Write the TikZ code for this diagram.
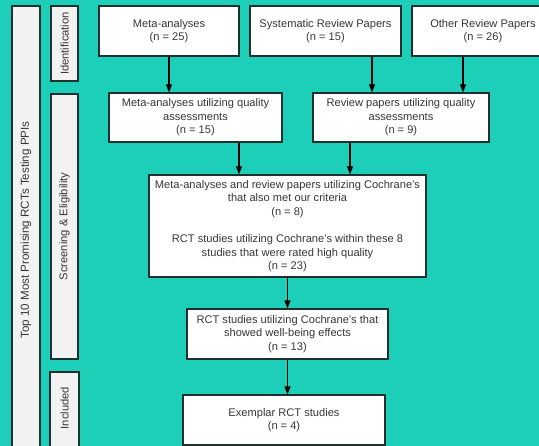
\documentclass[tikz,border=0pt]{standalone}
\usepackage{fontspec}
\setmainfont{Liberation Sans}
\usetikzlibrary{arrows.meta, positioning}

\definecolor{teal1}{RGB}{29,207,185}
\definecolor{edgec}{RGB}{28,48,46}
\definecolor{txtc}{RGB}{55,55,55}

\begin{document}
\begin{tikzpicture}[
    x=1pt, y=-1pt,
    box/.style={draw=edgec, line width=1.1pt, fill=white, inner sep=0pt, align=center,
        text=txtc, font=\fontsize{11.1}{13.6}\selectfont, minimum height=50pt},
    stage/.style={draw=edgec, line width=1.1pt, fill=gray!10, inner sep=0pt, minimum width=27pt},
    stagelabel/.style={rotate=90, text=txtc, font=\fontsize{11.2}{13}\selectfont},
    arr/.style={-{Triangle[length=8pt, width=6pt]}, line width=1.1pt, black}
]
    % background
    \fill[teal1] (0,0) rectangle (539,446);
    \useasboundingbox (0,0) rectangle (539,446);

    % stage bars
    \node[stage, minimum width=28pt, minimum height=470pt] (top) at (26,241) {};
    \node[stagelabel, font=\fontsize{11.6}{13}\selectfont] (toplabel) at (26,230)
        {Top 10 Most Promising RCTs Testing PPIs};
    \node[stage, minimum height=75pt] (ident) at (64.5,43.5) {};
    \node[stagelabel] at (ident) {Identification};
    \node[stage, minimum height=265pt] (screen) at (64.5,226.5) {};
    \node[stagelabel] at (screen) {Screening \& Eligibility};
    \node[stage, minimum width=29pt, minimum height=76pt] (incl) at (64.5,410) {};
    \node[stagelabel] at (64.5,408) {Included};

    % identification
    \node[box, minimum width=140pt] (meta) at (169,31) {Meta-analyses\\(n = 25)};
    \node[box, minimum width=151pt] (sys) at (325.5,31) {Systematic Review Papers\\(n = 15)};
    \node[box, minimum width=142pt] (other) at (483,31) {Other Review Papers\\(n = 26)};

    % screening
    \node[box, minimum width=173pt, minimum height=49pt] (metaq) at (195.5,117.5)
        {Meta-analyses utilizing quality\\assessments\\(n = 15)};
    \node[box, minimum width=176pt, minimum height=49pt] (revq) at (401,117.5)
        {Review papers utilizing quality\\assessments\\(n = 9)};
    \node[box, minimum width=277pt, minimum height=102pt] (coch) at (287.5,226)
        {Meta-analyses and review papers utilizing Cochrane's\\that also met our criteria\\(n = 8)\\[13.6pt]
         RCT studies utilizing Cochrane's within these 8\\studies that were rated high quality\\(n = 23)};
    \node[box, minimum width=201pt] (rct) at (287.5,334)
        {RCT studies utilizing Cochrane's that\\showed well-being effects\\(n = 13)};

    % included
    \node[box, minimum width=202pt] (exem) at (284,420) {Exemplar RCT studies\\(n = 4)};

    % arrows
    \draw[arr] (meta.south) -- (meta.south |- metaq.north);
    \draw[arr] ([xshift=46.5pt]sys.south) -- ([xshift=46.5pt]sys.south |- revq.north);
    \draw[arr] ([xshift=-20pt]other.south) -- ([xshift=-20pt]other.south |- revq.north);
    \draw[arr] ([xshift=43.5pt]metaq.south) -- ([xshift=43.5pt]metaq.south |- coch.north);
    \draw[arr] ([xshift=-51pt]revq.south) -- ([xshift=-51pt]revq.south |- coch.north);
    \draw[arr] (coch.south) -- (rct.north);
    \draw[arr] (rct.south) -- (rct.south |- exem.north);
\end{tikzpicture}
\end{document}
